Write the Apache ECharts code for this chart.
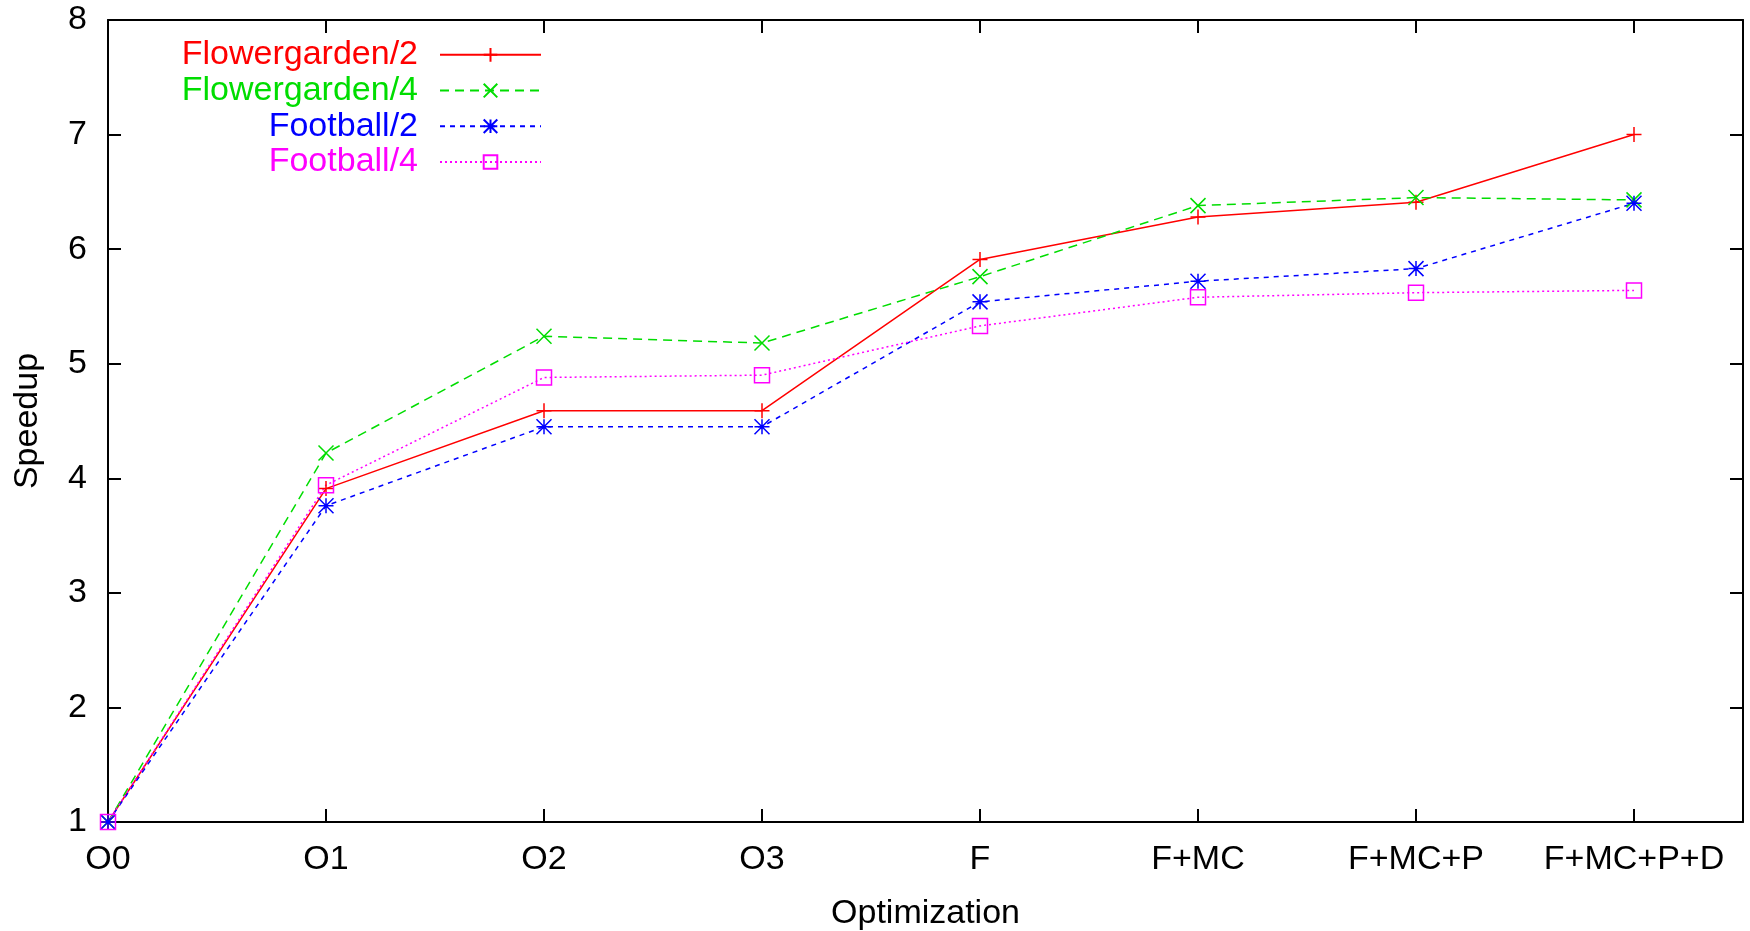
<!DOCTYPE html>
<html>
<head>
<meta charset="utf-8">
<script src="https://cdn.jsdelivr.net/npm/echarts@6/dist/echarts.min.js"></script>
<style>
html, body { margin: 0; padding: 0; background: #fff; }
#main { width: 1750px; height: 931px; }
</style>
</head>
<body>
<div id="main"></div>
<script>
var categories = ['O0', 'O1', 'O2', 'O3', 'F', 'F+MC', 'F+MC+P', 'F+MC+P+D'];
var flower2 = [1.0, 3.91, 4.59, 4.59, 5.91, 6.28, 6.41, 7.0];
var flower4 = [1.0, 4.22, 5.24, 5.18, 5.76, 6.38, 6.45, 6.43];
var football2 = [1.0, 3.76, 4.45, 4.45, 5.54, 5.72, 5.83, 6.40];
var football4 = [1.0, 3.94, 4.88, 4.90, 5.33, 5.58, 5.62, 5.64];
var yTicks = [1, 2, 3, 4, 5, 6, 7, 8];

var font = 'Liberation Sans, Arial, sans-serif';

function pairs(arr) {
	return arr.map(function (v, i) { return [i, v]; });
}

var plusPath = 'path://M0,5L10,5M5,0L5,10';
var crossPath = 'path://M0,0L10,10M10,0L0,10';
var starPath = 'path://M0,5L10,5M5,0L5,10M0,0L10,10M10,0L0,10';
var boxPath = 'path://M0,0L10,0L10,10L0,10Z';

function makeSeries(name, data, color, dash, symbol) {
	return {
		name: name,
		type: 'line',
		data: pairs(data),
		symbol: symbol,
		symbolSize: 15,
		symbolKeepAspect: true,
		showAllSymbol: true,
		lineStyle: { color: color, width: 1.5, type: dash },
		itemStyle: { color: 'rgba(0,0,0,0)', borderColor: color, borderWidth: 1.5 },
		emphasis: { disabled: true },
		animation: false,
		z: 3
	};
}

function legendItem(name, color) {
	return { name: name, textStyle: { color: color } };
}

var myChart = echarts.init(document.getElementById('main'));
var option = {
	animation: false,
	grid: { left: 108, right: 7, top: 20, bottom: 109, containLabel: false, outerBoundsMode: 'none' },
	legend: {
		orient: 'vertical',
		align: 'right',
		right: 1203,
		top: 32,
		itemWidth: 101,
		itemHeight: 17,
		itemGap: 0,
		data: [
			legendItem('Flowergarden/2', '#ff0000'),
			legendItem('Flowergarden/4', '#00dd00'),
			legendItem('Football/2', '#0000ff'),
			legendItem('Football/4', '#ff00ff')
		],
		textStyle: {
			fontFamily: font,
			fontSize: 34,
			lineHeight: 35.7,
			padding: [0, 17, 0, 0]
		}
	},
	xAxis: [{
		type: 'value',
		min: 0,
		max: 7.5,
		interval: 1,
		name: 'Optimization',
		nameLocation: 'middle',
		nameGap: 75,
		nameTextStyle: { fontFamily: font, fontSize: 34, color: '#000' },
		axisLine: { show: true, onZero: false, lineStyle: { color: '#000', width: 2 } },
		axisTick: { show: true, inside: true, length: 13, lineStyle: { color: '#000', width: 2 } },
		axisLabel: {
			fontFamily: font, fontSize: 34, color: '#000', margin: 21,
			formatter: function (v) { return Number.isInteger(v) && categories[v] ? categories[v] : ''; }
		},
		splitLine: { show: false }
	}, {
		type: 'value',
		position: 'top',
		min: 0,
		max: 7.5,
		interval: 1,
		axisLine: { show: true, onZero: false, lineStyle: { color: '#000', width: 2 } },
		axisTick: { show: true, inside: true, length: 13, lineStyle: { color: '#000', width: 2 } },
		axisLabel: { show: false },
		splitLine: { show: false }
	}],
	yAxis: [{
		type: 'value',
		min: yTicks[0],
		max: yTicks[yTicks.length - 1],
		interval: 1,
		name: 'Speedup',
		nameLocation: 'middle',
		nameGap: 63,
		nameTextStyle: { fontFamily: font, fontSize: 34, color: '#000' },
		axisLine: { show: true, onZero: false, lineStyle: { color: '#000', width: 2 } },
		axisTick: { show: true, inside: true, length: 13, lineStyle: { color: '#000', width: 2 } },
		axisLabel: { fontFamily: font, fontSize: 34, color: '#000', margin: 21 },
		splitLine: { show: false }
	}, {
		type: 'value',
		position: 'right',
		min: yTicks[0],
		max: yTicks[yTicks.length - 1],
		interval: 1,
		axisLine: { show: true, onZero: false, lineStyle: { color: '#000', width: 2 } },
		axisTick: { show: true, inside: true, length: 13, lineStyle: { color: '#000', width: 2 } },
		axisLabel: { show: false },
		splitLine: { show: false }
	}],
	series: [
		makeSeries('Flowergarden/2', flower2, '#ff0000', 'solid', plusPath),
		makeSeries('Flowergarden/4', flower4, '#00dd00', [9, 6], crossPath),
		makeSeries('Football/2', football2, '#0000ff', [5, 5], starPath),
		makeSeries('Football/4', football4, '#ff00ff', [2, 3], boxPath)
	]
};
myChart.setOption(option);
</script>
</body>
</html>
